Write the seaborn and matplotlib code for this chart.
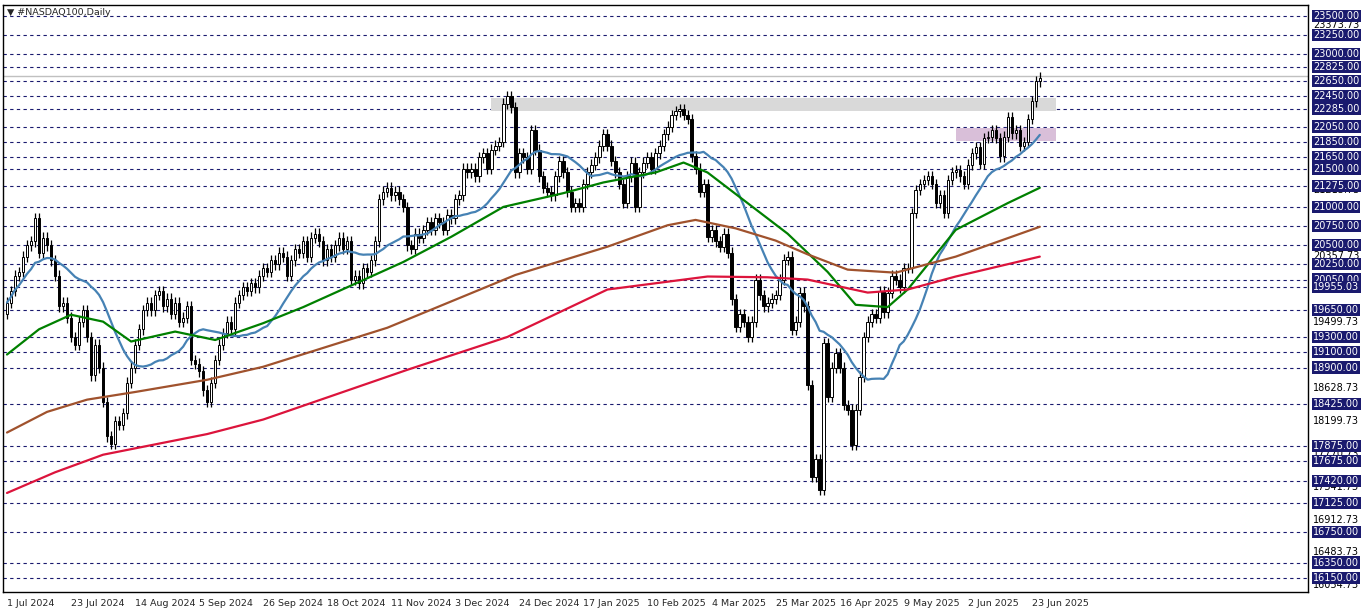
import numpy as np
import pandas as pd
import matplotlib
matplotlib.use("Agg")
import matplotlib.pyplot as plt
import matplotlib.transforms as mtrans
import seaborn as sns

closes = [19750, 19900, 20100, 20150, 20350, 20500, 20550, 20850, 20400,
          20600, 20500, 20300, 20100, 19700, 19750, 19550, 19300, 19200, 19500, 19650, 19300, 18800, 19200, 18900, 18450, 18000, 17900, 18200,
          18150, 18300, 18700, 18900, 19200, 19400, 19650, 19750, 19650, 19850,
          19900, 19700, 19800, 19600, 19750, 19500, 19550, 19700, 19000, 18950, 18850, 18600, 18450,
          18700, 19000, 19200, 19350, 19500, 19400, 19750, 19850, 19950, 19900, 20000, 19950, 20100, 20200,
          20150, 20300, 20250, 20400, 20350, 20100, 20300, 20450, 20400, 20550, 20350, 20600, 20650,
          20550, 20300, 20450, 20350, 20500, 20600, 20450, 20550, 20050, 20100, 20000, 20200, 20150,
          20300, 20550, 21100, 21200, 21250, 21150, 21200, 21100, 21000, 20500, 20450, 20650, 20600, 20700,
          20800, 20700, 20850, 20800, 20700, 20900, 20850, 21100, 21150, 21500, 21450, 21500, 21400, 21650, 21700, 21500, 21750, 21800, 21850,
          22350, 22450, 22300, 21450, 21700,
          21650, 21500, 22000, 21750, 21400, 21250, 21200, 21150, 21400, 21600, 21450, 21200, 21000, 21050, 21000, 21300, 21450, 21550, 21650, 21800, 21950, 21800,
          21600, 21450, 21300, 21050, 21400, 21580, 21000, 21450, 21580, 21650, 21500, 21700, 21800, 21950, 22050, 22200, 22250, 22280, 22200, 22150, 21660, 21500,
          21200, 21300, 20610, 20700, 20550, 20480, 20650, 20400, 19790, 19430, 19600, 19500, 19300, 19500, 20050, 19850, 19700, 19750,
          19800, 19850, 20050, 20310, 20350, 19390, 19500, 19880, 19700, 18670, 17470, 17700, 17300, 19220, 18520,
          18900, 19090, 18900, 18410, 18350, 17890, 18350, 18780, 19300, 19500, 19600, 19550, 19900, 19620, 19880, 20100, 20050,
          19950, 20200, 20200, 20920, 21220, 21300, 21350, 21400, 21300, 21050, 21150, 20920, 21350, 21450, 21480, 21400, 21300, 21550,
          21700, 21780, 21560, 21900, 21920, 22000, 21900, 21660, 21920, 22170, 21960, 22000, 21800, 21850, 22150, 22380, 22640, 22690]
first_open = 19600

red_idx = [0, 12, 24, 50, 64, 100, 125, 150, 175, 190, 200, 215, 225, 237, 258]
red_val = [17260, 17530, 17760, 18030, 18220, 18870, 19300, 19920, 20090, 20080, 20050, 19880, 19920, 20090, 20350]
brown_idx = [0, 10, 20, 32, 50, 64, 95, 127, 150, 165, 172, 182, 192, 200, 210, 222, 237, 258]
brown_val = [18050, 18320, 18480, 18580, 18740, 18910, 19420, 20110, 20480, 20760, 20830, 20720, 20560, 20380, 20180, 20140, 20350, 20740]
green_idx = [0, 8, 16, 24, 31, 42, 52, 64, 74, 88, 99, 111, 124, 139, 149, 162, 169, 175, 185, 195, 205, 212, 220, 225, 237, 250, 258]
green_val = [19070, 19400, 19590, 19500, 19240, 19370, 19260, 19480, 19690, 20020, 20280, 20610, 21000, 21180, 21320, 21450, 21580,
             21450, 21050, 20650, 20150, 19720, 19690, 19920, 20700, 21050, 21250]

level_lines = [23500, 23250, 23000, 22825, 22650, 22450, 22285, 22050, 21850, 21650, 21500, 21275, 21000, 20750,
               20500, 20250, 20050, 19955.03, 19650, 19300, 19100, 18900, 18425, 17875, 17675, 17420, 17125, 16750, 16350, 16150]
plain_ticks = [23373.73, 21215.73, 20357.73, 19499.73, 18628.73, 18199.73, 17770.73, 17341.73, 16912.73, 16483.73, 16054.73]
date_labels = ["1 Jul 2024", "23 Jul 2024", "14 Aug 2024", "5 Sep 2024", "26 Sep 2024", "18 Oct 2024", "11 Nov 2024",
               "3 Dec 2024", "24 Dec 2024", "17 Jan 2025", "10 Feb 2025", "4 Mar 2025", "25 Mar 2025", "16 Apr 2025",
               "9 May 2025", "2 Jun 2025", "23 Jun 2025"]
date_pos = [0, 16, 32, 48, 64, 80, 96, 112, 128, 144, 160, 176, 192, 208, 224, 240, 256]
zone_grey = (121, 262, 22260, 22430)
zone_purple = (237, 262, 21865, 22035)
last_line = 22715

sns.set_style("white")
plt.rcParams['font.family'] = ['DejaVu Sans']
fig = plt.figure(figsize=(13.62, 6.11), dpi=100)
ax = fig.add_axes([3/1362, 19/611, 1305/1362, 587/611])

n = len(closes)
opens = [first_open] + closes[:-1]
x = np.arange(n)
c = np.array(closes, float); o = np.array(opens, float)
hi = np.maximum(c, o) + 70
lo = np.minimum(c, o) - 70

for lv in level_lines:
    ax.axhline(lv, color='#1a1a6e', lw=0.8, ls=(0, (3, 3)), zorder=0)

ax.add_patch(plt.Rectangle((zone_grey[0], zone_grey[2]), zone_grey[1]-zone_grey[0], zone_grey[3]-zone_grey[2],
                           color='#d9d9d9', zorder=1, lw=0))
ax.add_patch(plt.Rectangle((zone_purple[0], zone_purple[2]), zone_purple[1]-zone_purple[0], zone_purple[3]-zone_purple[2],
                           color='#d9bfd9', zorder=1, lw=0))
ax.axhline(last_line, color='#c0c0c0', lw=1, zorder=1)

ax.vlines(x, lo, hi, color='black', lw=0.9, zorder=3)
up = c >= o
ax.bar(x[up], (c - o)[up], bottom=o[up], width=0.6, color='white', edgecolor='black', lw=0.7, zorder=4)
ax.bar(x[~up], (o - c)[~up], bottom=c[~up], width=0.6, color='black', edgecolor='black', lw=0.7, zorder=4)

blue = pd.Series(c).rolling(20, min_periods=1).mean()
df = pd.DataFrame({'x': x, 'blue': blue})
sns.lineplot(data=df, x='x', y='blue', color='#4682b4', lw=1.6, ax=ax, zorder=5)
sns.lineplot(x=green_idx, y=green_val, color='#008000', lw=1.6, ax=ax, zorder=5)
sns.lineplot(x=brown_idx, y=brown_val, color='#a0522d', lw=1.6, ax=ax, zorder=5)
sns.lineplot(x=red_idx, y=red_val, color='#dc143c', lw=1.6, ax=ax, zorder=5)

ax.set_xlim(-1, 325)
ax.set_ylim(15965, 23640)
ax.set_xlabel(''); ax.set_ylabel('')
ax.set_xticks(date_pos)
ax.set_xticklabels(date_labels, fontsize=6.8, ha='left')
ax.tick_params(axis='x', length=3, pad=2, color='black')
ax.set_yticks([])
for s in ax.spines.values():
    s.set_color('black'); s.set_linewidth(1)

trans = mtrans.blended_transform_factory(ax.transAxes, ax.transData)
for t in plain_ticks:
    ax.text(1.004, t, f"{t:.2f}", transform=trans, fontsize=7, va='center', ha='left', color='black', clip_on=False)
for lv in level_lines:
    ax.text(1.004, lv, f"{lv:.2f}", transform=trans, fontsize=7, va='center', ha='left', color='white', clip_on=False,
            bbox=dict(boxstyle='square,pad=0.12', fc='#1a1a6e', ec='none'))
ax.text(0.003, 0.995, "\u25bc #NASDAQ100,Daily", transform=ax.transAxes, fontsize=6.8, va='top', ha='left')

fig.savefig("out.png", dpi=100)
